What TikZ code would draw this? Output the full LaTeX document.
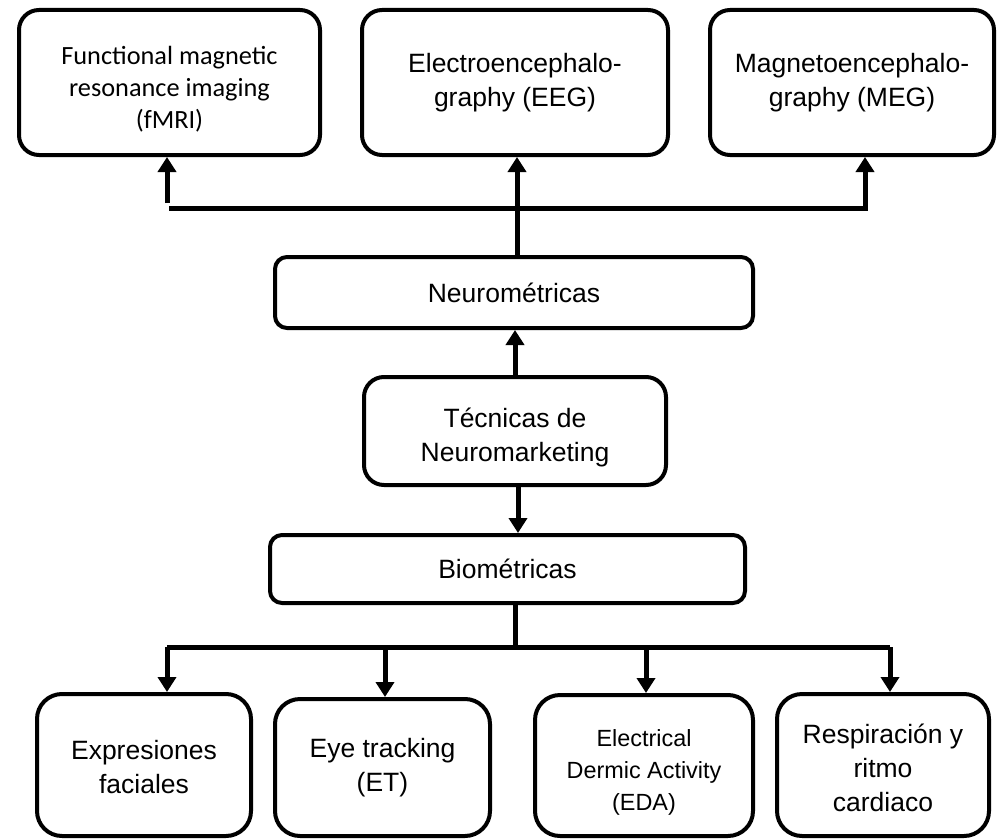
\documentclass[tikz,border=0pt]{standalone}
\usepackage{fontspec}
\setmainfont{Liberation Sans}
\newfontfamily\calib{Carlito}
\usetikzlibrary{arrows.meta}
\newcommand{\lift}[1]{\rule{0pt}{#1}}
\begin{document}
\begin{tikzpicture}[x=1pt,y=-1pt,
  box/.style={draw, line width=4pt, rounded corners=20pt, align=center, inner sep=0pt,
    font=\fontsize{26.5}{34}\selectfont},
  flat/.style={box, rounded corners=12pt},
  conn/.style={line width=5pt},
  arr/.style={conn, -{Triangle[width=18pt,length=15pt]}}]
\useasboundingbox (0,0) rectangle (998,840);
% top row
\node[box, minimum width=301pt, minimum height=145pt, font=\calib\fontsize{26.3}{32}\selectfont] (fmri) at (169.5,82.5)
  {\lift{32pt}Functional magnetic\\resonance imaging\\(fMRI)};
\node[box, minimum width=306pt, minimum height=145pt] (eeg) at (515,82.5)
  {Electroencephalo-\\graphy (EEG)};
\node[box, minimum width=284pt, minimum height=145pt] (meg) at (852,82.5)
  {Magnetoencephalo-\\graphy (MEG)};
% middle
\node[flat, minimum width=478pt, minimum height=71pt] (neuro) at (514,292.5) {Neurométricas};
\node[box, minimum width=302pt, minimum height=108pt] (tec) at (515,431) {\lift{33pt}Técnicas de\\Neuromarketing};
\node[flat, minimum width=475pt, minimum height=68pt] (bio) at (507.5,569) {Biométricas};
% bottom row
\node[box, rounded corners=25pt, minimum width=214pt, minimum height=142pt] (expr) at (144,765) {\lift{24pt}Expresiones\\faciales};
\node[box, rounded corners=25pt, minimum width=215pt, minimum height=137pt] (eye) at (382.5,767.5) {Eye tracking\\(ET)};
\node[box, rounded corners=25pt, minimum width=218pt, minimum height=141pt, font=\fontsize{23.4}{32}\selectfont] (eda) at (644,765.5) {\lift{31pt}Electrical\\Dermic Activity\\(EDA)};
\node[box, rounded corners=25pt, minimum width=212pt, minimum height=142pt] (resp) at (883,765) {\lift{26pt}Respiración y\\ritmo\\cardiaco};
% upper connectors
\coordinate (fl) at (167,203);
\coordinate (jl) at (169,208);
\coordinate (jr) at (865,208);
\coordinate (ne) at (517,257);
\draw[arr] (fl) -- (fl |- fmri.south);
\draw[arr] (jl) -- (jr) -- (jr |- meg.south);
\draw[arr] (ne) -- (ne |- eeg.south);
\coordinate (tn) at (515,377);
\draw[arr] (tn) -- (tn |- neuro.south);
\coordinate (tb) at (518,485);
\draw[arr] (tb) -- (tb |- bio.north);
% lower connectors
\coordinate (bs) at (515,603);
\coordinate (bus) at (515,647);
\coordinate (b1) at (167,647);
\coordinate (b2) at (385,647);
\coordinate (b3) at (646,647);
\coordinate (b4) at (890,647);
\draw[conn] (bs) -- (bus);
\draw[conn] (b1) -- (b4);
\draw[arr] (b1) -- (b1 |- expr.north);
\draw[arr] (b2) -- (b2 |- eye.north);
\draw[arr] (b3) -- (b3 |- eda.north);
\draw[arr] (b4) -- (b4 |- resp.north);
\end{tikzpicture}
\end{document}
